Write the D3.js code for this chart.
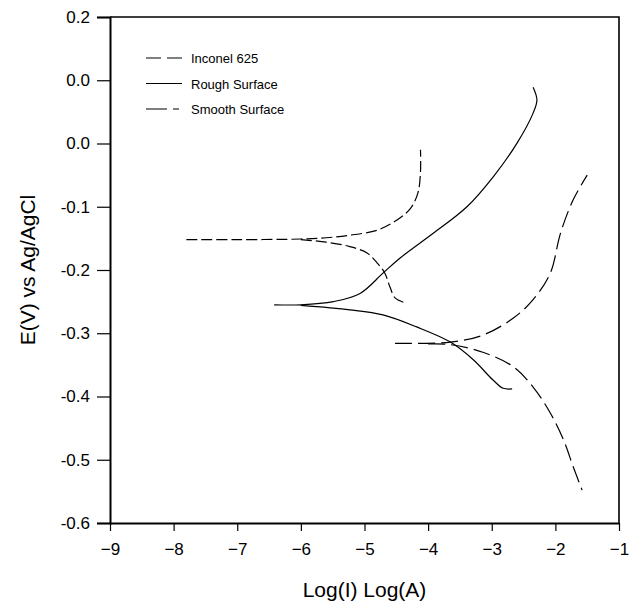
<!DOCTYPE html>
<html>
<head>
<meta charset="utf-8">
<script src="https://cdn.jsdelivr.net/npm/d3@7"></script>
<style>
body { margin: 0; background: #fff; }
text { font-family: "Liberation Sans", Arial, sans-serif; fill: #000; }
</style>
</head>
<body>
<svg id="chart" width="634" height="607"></svg>
<script>
var width = 634, height = 607;
var margin = {left: 110, top: 17, right: 15, bottom: 84};

// tick values and their printed labels (the original prints 0.0 twice)
var yTicks = [0.2, 0.1, 0.0, -0.1, -0.2, -0.3, -0.4, -0.5, -0.6];
var yTickLabels = ["0.2", "0.0", "0.0", "-0.1", "-0.2", "-0.3", "-0.4", "-0.5", "-0.6"];
var xTicks = [-9, -8, -7, -6, -5, -4, -3, -2, -1];

// Inconel 625: anodic (upper) and cathodic (lower) branches, [log I, E]
var inconelUpper = [[-7.8, -0.152], [-7.0, -0.152], [-6.0, -0.151], [-5.6, -0.149], [-5.23, -0.145],
  [-4.8, -0.137], [-4.49, -0.121], [-4.28, -0.103], [-4.16, -0.078], [-4.12, -0.045], [-4.12, -0.010]];
var inconelLower = [[-6.0, -0.152], [-5.6, -0.156], [-5.23, -0.163], [-4.96, -0.173], [-4.8, -0.189],
  [-4.68, -0.205], [-4.6, -0.227], [-4.52, -0.244], [-4.36, -0.252]];

// Rough surface
var roughUpper = [[-6.42, -0.255], [-6.0, -0.255], [-5.49, -0.25], [-5.07, -0.237], [-4.71, -0.205],
  [-4.44, -0.181], [-3.92, -0.142], [-3.39, -0.100], [-2.98, -0.053], [-2.6, 0.001],
  [-2.35, 0.048], [-2.29, 0.069], [-2.35, 0.089]];
var roughLower = [[-6.0, -0.256], [-5.23, -0.263], [-4.71, -0.271], [-4.18, -0.290], [-3.65, -0.314],
  [-3.29, -0.342], [-2.98, -0.374], [-2.82, -0.387], [-2.68, -0.388]];

// Smooth surface
var smoothUpper = [[-4.52, -0.316], [-3.65, -0.314], [-3.14, -0.303], [-2.66, -0.276], [-2.35, -0.247],
  [-2.08, -0.205], [-1.92, -0.142], [-1.72, -0.089], [-1.5, -0.050]];
var smoothLower = [[-4.0, -0.317], [-3.65, -0.318], [-3.14, -0.330], [-2.66, -0.353], [-2.35, -0.385],
  [-2.08, -0.426], [-1.87, -0.469], [-1.72, -0.511], [-1.58, -0.548]];

var legendNames = ["Inconel 625", "Rough Surface", "Smooth Surface"];
var dashes = {"Inconel 625": "11,4", "Rough Surface": null, "Smooth Surface": "17,6"};
var legendDashes = {"Inconel 625": "15,6", "Rough Surface": null, "Smooth Surface": "21,6,6,3"};

var series = [
  {name: "Inconel 625", pts: inconelUpper},
  {name: "Inconel 625", pts: inconelLower},
  {name: "Rough Surface", pts: roughUpper},
  {name: "Rough Surface", pts: roughLower},
  {name: "Smooth Surface", pts: smoothUpper},
  {name: "Smooth Surface", pts: smoothLower}
];

var svg = d3.select("#chart");

var x = d3.scaleLinear().domain([-9, -1]).range([margin.left, width - margin.right]);
var y = d3.scaleLinear().domain([-0.6, 0.2]).range([height - margin.bottom, margin.top]);

// frame top + right
svg.append("path")
  .attr("d", "M" + x(-9) + "," + y(0.2) + "H" + x(-1) + "V" + y(-0.6))
  .attr("fill", "none").attr("stroke", "#000").attr("stroke-width", 1.6);

// y axis
var yAxis = svg.append("g").attr("transform", "translate(" + x(-9) + ",0)")
  .call(d3.axisLeft(y).tickValues(yTicks).tickSize(13).tickPadding(7)
    .tickFormat(function(d, i) { return yTickLabels[i]; }));
yAxis.select(".domain").attr("stroke-width", 2);
yAxis.selectAll(".tick line").attr("stroke-width", 1.2);
yAxis.selectAll("text").style("font-size", "17px");

// x axis
var xAxis = svg.append("g").attr("transform", "translate(0," + y(-0.6) + ")")
  .call(d3.axisBottom(x).tickValues(xTicks).tickSize(8).tickPadding(12).tickSizeOuter(0));
xAxis.select(".domain").attr("stroke-width", 2.2);
xAxis.selectAll(".tick line").attr("stroke-width", 1.2);
xAxis.selectAll("text").style("font-size", "17px");

// curves
var line = d3.line()
  .x(function(d) { return x(d[0]); })
  .y(function(d) { return y(d[1]); })
  .curve(d3.curveCatmullRom.alpha(0.5));

svg.append("g").selectAll("path")
  .data(series)
  .enter().append("path")
  .attr("d", function(d) { return line(d.pts); })
  .attr("fill", "none")
  .attr("stroke", "#000")
  .attr("stroke-width", 1.2)
  .attr("stroke-dasharray", function(d) { return dashes[d.name]; });

// legend
var legend = svg.append("g").selectAll("g")
  .data(legendNames)
  .enter().append("g")
  .attr("transform", function(d, i) { return "translate(146," + (58 + i * 25.5) + ")"; });
legend.append("line")
  .attr("x1", 0).attr("x2", 36)
  .attr("stroke", "#000").attr("stroke-width", 1.2)
  .attr("stroke-dasharray", function(d) { return legendDashes[d]; });
legend.append("text")
  .attr("x", 45).attr("y", 5)
  .style("font-size", "13px")
  .text(function(d) { return d; });

// axis titles
svg.append("text")
  .attr("x", (x(-9) + x(-1)) / 2).attr("y", 597)
  .attr("text-anchor", "middle")
  .style("font-size", "21px")
  .text("Log(I) Log(A)");
svg.append("text")
  .attr("transform", "translate(35," + y(-0.2) + ") rotate(-90)")
  .attr("text-anchor", "middle")
  .style("font-size", "21px")
  .text("E(V) vs Ag/AgCl");
</script>
</body>
</html>
